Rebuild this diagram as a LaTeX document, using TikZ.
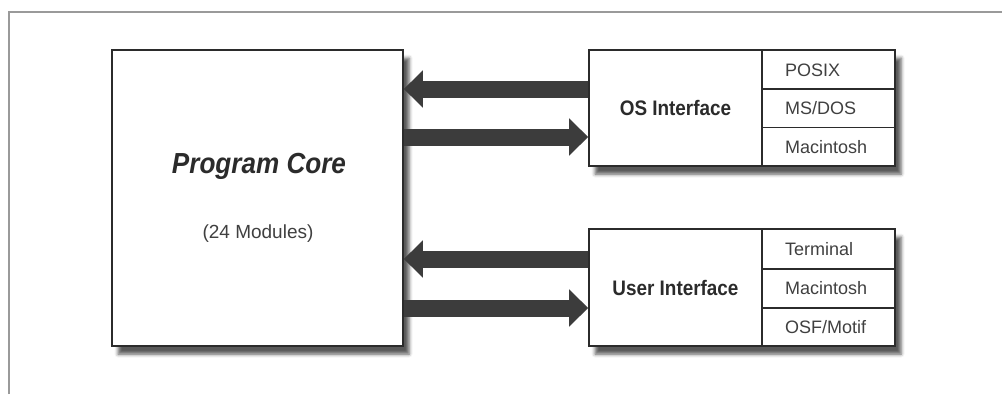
\documentclass[tikz,border=0pt]{standalone}
\usepackage{fontspec}
\setmainfont{Liberation Sans}
\newfontfamily\titlefont[FakeStretch=0.9]{Liberation Sans}
\usetikzlibrary{arrows.meta,shadows.blur,calc}
\definecolor{ink}{HTML}{2B2B2B}
\definecolor{softink}{HTML}{404040}
\definecolor{arrowgray}{HTML}{3C3C3C}
\definecolor{framegray}{HTML}{9A9A9A}
\tikzset{
  box/.style={draw=ink, line width=1.6pt, fill=white, rectangle, inner sep=0pt,
    blur shadow={shadow xshift=6pt, shadow yshift=-8pt, shadow blur radius=3.5pt, shadow opacity=65}},
  divider/.style={draw=ink, line width=1.3pt},
  bigarrow/.style={draw=arrowgray, line width=17pt,
    -{Triangle[width=36pt, length=19pt]}},
  title/.style={text=ink, font=\titlefont\bfseries\fontsize{21}{24}\selectfont, inner sep=0pt},
  subtitle/.style={text=softink, font=\fontsize{19}{22}\selectfont, inner sep=0pt},
  item/.style={text=softink, font=\fontsize{18}{21}\selectfont, inner sep=0pt, anchor=west},
}
\begin{document}
\begin{tikzpicture}[x=1pt, y=-1pt]
\useasboundingbox (0,0) rectangle (1002,394);

% outer frame (top and left edges)
\draw[framegray, line width=1.6pt] (9,394) -- (9,12) -- (1002,12);

% program core
\node[box, minimum width=291pt, minimum height=296pt] (core) at (257.5,198) {};
\node[text=ink, inner sep=0pt, font=\titlefont\bfseries\itshape\fontsize{29}{32}\selectfont]
  (coretitle) at (259,166) {Program Core};
\node[subtitle] (coresub) at (258,234) {(24 Modules)};

% OS interface
\node[box, minimum width=306pt, minimum height=116pt] (os) at (742,108) {};
\draw[divider] (762,50) -- (762,166);
\draw[divider] (762,89) -- (895,89);
\draw[divider] (762,127.5) -- (895,127.5);
\node[title] (ostitle) at (675.5,108) {OS Interface};
\node[item] (posix) at (785,70) {POSIX};
\node[item] (msdos) at (785,108.5) {MS/DOS};
\node[item] (osmac) at (785,147) {Macintosh};

% user interface
\node[box, minimum width=306pt, minimum height=117pt] (ui) at (742,287.5) {};
\draw[divider] (762,229) -- (762,346);
\draw[divider] (762,269) -- (895,269);
\draw[divider] (762,308) -- (895,308);
\node[title] (uititle) at (675.5,288) {User Interface};
\node[item] (term) at (785,249) {Terminal};
\node[item] (uimac) at (785,288.5) {Macintosh};
\node[item] (motif) at (785,327.5) {OSF/Motif};

% data flow between the core and the interfaces
\draw[bigarrow] ($(os.west)+(0,-19)$) -- ($(core.east |- os.west)+(0,-19)$);
\draw[bigarrow] ($(core.east |- os.west)+(0,29)$) -- ($(os.west)+(0,29)$);
\draw[bigarrow] ($(ui.west)+(0,-28.5)$) -- ($(core.east |- ui.west)+(0,-28.5)$);
\draw[bigarrow] ($(core.east |- ui.west)+(0,20.5)$) -- ($(ui.west)+(0,20.5)$);
\end{tikzpicture}
\end{document}
